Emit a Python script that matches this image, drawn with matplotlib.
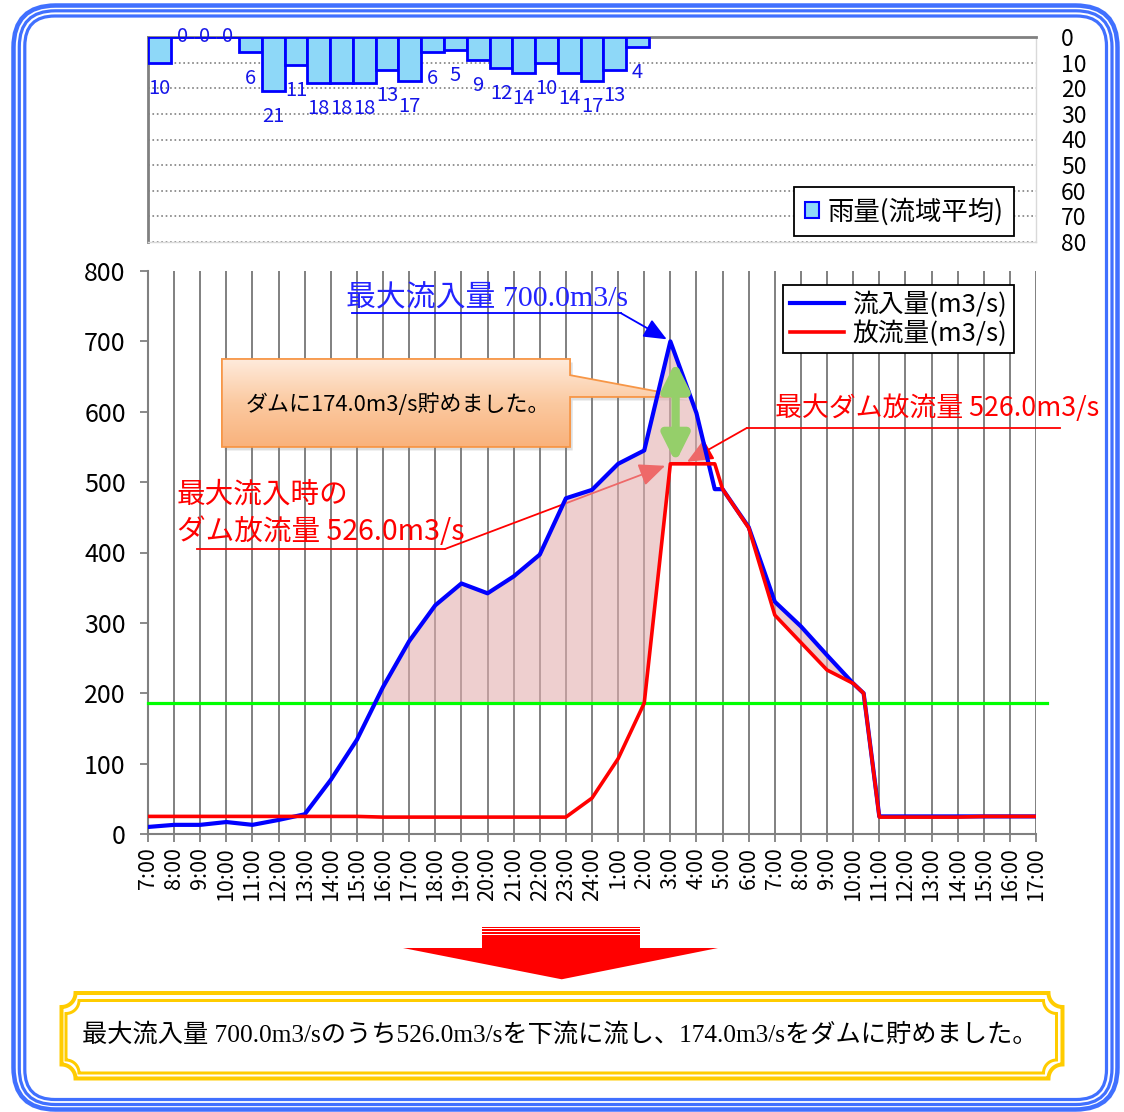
import numpy as np
import matplotlib
matplotlib.use("Agg")
import matplotlib.pyplot as plt
import matplotlib.transforms as mtransforms
from matplotlib.patches import Polygon, Rectangle, FancyBboxPatch, FancyArrowPatch
from matplotlib.colors import LinearSegmentedColormap

plt.rcParams['font.family'] = ['Noto Sans CJK JP', 'DejaVu Sans']
SERIF = ['Liberation Serif', 'Noto Sans CJK JP']

# ---- データ ----
time_labels = ['7:00', '8:00', '9:00', '10:00', '11:00', '12:00', '13:00', '14:00', '15:00',
               '16:00', '17:00', '18:00', '19:00', '20:00', '21:00', '22:00', '23:00', '24:00',
               '1:00', '2:00', '3:00', '4:00', '5:00', '6:00', '7:00', '8:00', '9:00', '10:00',
               '11:00', '12:00', '13:00', '14:00', '15:00', '16:00', '17:00']
# 7:00 からの経過時間
hours = [0, 1, 2, 3, 4, 5, 6, 7, 8, 9, 10, 11, 12, 13, 14, 15, 16, 17, 18, 19, 20, 21, 21.7,
         22, 23, 24, 25, 26, 27, 27.4, 28, 29, 30, 31, 32, 33, 34]
inflow = [10, 13, 13, 17, 13, 20, 28, 77, 134, 209, 274, 325, 356, 342, 366, 397, 477, 489,
          526, 545, 700, 598, 490, 490, 436, 330, 295, 254, 214, 200, 25, 25, 25, 25, 25, 25, 25]
outflow = [25, 25, 25, 25, 25, 25, 25, 25, 25, 24, 24, 24, 24, 24, 24, 24, 24, 51,
           107, 186, 526, 526, 526, 490, 435, 311, 272, 233, 214, 200, 24, 24, 24, 24, 25, 25, 25]
rain_values = [10, 0, 0, 0, 6, 21, 11, 18, 18, 18, 13, 17, 6, 5, 9, 12, 14, 10, 14, 17, 13, 4]
rain_ticks = [0, 10, 20, 30, 40, 50, 60, 70, 80]
flow_ticks = [0, 100, 200, 300, 400, 500, 600, 700, 800]
flood_level = 186

max_in = max(inflow)
i_peak = inflow.index(max_in)
out_at_peak = outflow[i_peak]
max_out = max(outflow)
stored = max_in - out_at_peak

W, H = 1124, 1112
fig = plt.figure(figsize=(W / 100, H / 100), dpi=100)

# ---- 枠・矢印などの装飾 (ピクセル座標) ----
deco = fig.add_axes([0, 0, 1, 1], zorder=-1)
deco.set_xlim(0, W)
deco.set_ylim(H, 0)
deco.axis('off')

for x0, y0, x1, y1, lw, r in [(13.5, 5.5, 1117.5, 1109.5, 4.5, 42),
                              (19.3, 10.8, 1112, 1104.5, 3.2, 36),
                              (24.8, 16, 1106.5, 1099.5, 3.2, 30)]:
    deco.add_patch(FancyBboxPatch((x0, y0), x1 - x0, y1 - y0,
                                  boxstyle=f'round,pad=0,rounding_size={r}',
                                  fill=False, ec='#4070FF', lw=lw * 0.72))

# 下向きの赤矢印
for y, h in [(926.5, 1.2), (929.3, 1.5), (932.4, 1.2), (934.6, 14)]:
    deco.add_patch(Rectangle((482, y), 158, h, fc='#FF0000', ec='none'))
deco.add_patch(Polygon([(403, 948), (718, 948), (561.7, 979.3)], closed=True, fc='#FF0000', ec='none'))


def notched(x0, y0, x1, y1, r, n=16):
    pts = []
    for cx, cy, a0, a1 in [(x0, y0, 90, 0), (x1, y0, 180, 90), (x1, y1, 270, 180), (x0, y1, 360, 270)]:
        t = np.radians(np.linspace(a0, a1, n))
        pts += list(zip(cx + r * np.cos(t), cy + r * np.sin(t)))
    return pts


deco.add_patch(Polygon(notched(61.5, 993, 1062.5, 1078.5, 14), closed=True, fill=False,
                       ec='#FFCC00', lw=4 * 0.72))
deco.add_patch(Polygon(notched(66, 1000.5, 1056.5, 1073, 13), closed=True, fill=False,
                       ec='#FFCC00', lw=3 * 0.72))
deco.text(560, 1035, f'最大流入量 {max_in:.1f}m3/sのうち{out_at_peak:.1f}m3/sを下流に流し、{stored:.1f}m3/sをダムに貯めました。',
          ha='center', va='center', fontsize=18.2, family=SERIF, color='black')

# ---- 雨量グラフ ----
ax_r = fig.add_axes([148 / W, 1 - 242 / H, 888 / W, 205 / H])
ax_r.bar(np.arange(len(rain_values)), rain_values, width=1, align='edge', color='#8ED8F8',
         edgecolor='#0000FF', linewidth=2, zorder=3)
for i, v in enumerate(rain_values):
    ax_r.text(i + 0.5, v + 10 if v else 0, str(v), ha='center', va='center',
              color='#1515E8', fontsize=14.5, zorder=4)
ax_r.set_xlim(0, 39)
ax_r.set_ylim(80, 0)
ax_r.set_xticks([])
ax_r.set_yticks(rain_ticks)
ax_r.yaxis.tick_right()
ax_r.tick_params(axis='y', length=0, pad=18, labelsize=16.5)
ax_r.yaxis.grid(True, ls=':', color='#808080', lw=1.2)
ax_r.set_axisbelow(True)
for s in ['top', 'left']:
    ax_r.spines[s].set_color('#808080')
    ax_r.spines[s].set_linewidth(2)
for s in ['right', 'bottom']:
    ax_r.spines[s].set_color('#D9D9D9')
    ax_r.spines[s].set_linewidth(1)
leg_r = ax_r.legend([Rectangle((0, 0), 1, 1, fc='#8ED8F8', ec='#0000FF', lw=1.5)], ['雨量(流域平均)'],
                    loc='lower right', bbox_to_anchor=(0.975, 0.03), borderaxespad=0, fontsize=19,
                    handlelength=0.55, handleheight=0.55, handletextpad=0.3, borderpad=0.4,
                    fancybox=False, edgecolor='black', framealpha=1)
leg_r.get_frame().set_linewidth(1.3)

# ---- 流量グラフ ----
ax = fig.add_axes([148 / W, 1 - 834 / H, 888 / W, 563 / H])
ax.set_xlim(0, len(time_labels) - 1)
ax.set_ylim(flow_ticks[0], flow_ticks[-1])
ax.set_xticks(range(len(time_labels)))
ax.set_xticklabels(time_labels, rotation=90, fontsize=15.5)
shift = mtransforms.ScaledTranslation(5 / 100, 0, fig.dpi_scale_trans)
for lab in ax.get_xticklabels():
    lab.set_transform(lab.get_transform() + shift)
ax.set_yticks(flow_ticks)
ax.tick_params(axis='y', labelsize=18, pad=10)
ax.tick_params(axis='both', direction='out', length=6, width=1.3, color='#808080')
ax.grid(axis='x', color='#808080', lw=1.4)
ax.set_axisbelow(True)
for s in ['top', 'right']:
    ax.spines[s].set_visible(False)
for s in ['left', 'bottom']:
    ax.spines[s].set_color('#808080')
    ax.spines[s].set_linewidth(1.5)

# 貯留量の塗りつぶし
xs = np.linspace(hours[0], hours[-1], 3000)
yi = np.interp(xs, hours, inflow)
floor = np.maximum(np.interp(xs, hours, outflow), flood_level)
ax.fill_between(xs, floor, yi, where=yi > floor, interpolate=True, color='#E3B0B0',
                alpha=0.6, lw=0, zorder=3)
ax.axhline(flood_level, xmin=0, xmax=1.012, color='#00FF00', lw=2.3, zorder=4, clip_on=False)

l_in, = ax.plot(hours, inflow, color='#0000FF', lw=3, zorder=5)
l_out, = ax.plot(hours, outflow, color='#FF0000', lw=2.6, zorder=6)

leg = ax.legend([l_in, l_out], ['流入量(m3/s)', '放流量(m3/s)'], loc='upper right',
                bbox_to_anchor=(0.975, 0.975), borderaxespad=0, fontsize=18.5, handlelength=2.1,
                handletextpad=0.35, borderpad=0.25, labelspacing=0.1, fancybox=False,
                edgecolor='black', framealpha=1)
leg.get_frame().set_linewidth(1.3)
leg.set_zorder(10)

# 最大流入量の注記
ax.text(7.58, 760, f'最大流入量 {max_in:.1f}m3/s', color='#2323FF', fontsize=21.5, family=SERIF,
        ha='left', va='center', zorder=8)
ax.plot([7.81, 18.11], [740, 740], color='#0000FF', lw=1.3, zorder=2, clip_on=False)
ax.annotate('', xy=(hours[i_peak], max_in), xytext=(18.11, 740), zorder=2,
            arrowprops=dict(arrowstyle='-|>,head_length=0.7,head_width=0.3', color='#0000FF',
                            lw=1.3, shrinkA=0, shrinkB=3, mutation_scale=20))

# 吹き出し
box_pts = [(2.83, 675), (16.16, 675), (16.16, 652), (20.63, 621), (16.16, 621), (16.16, 550), (2.83, 550)]
shadow = Polygon([(x + 0.1, y - 5) for x, y in box_pts], closed=True, fc='#808080', ec='none',
                 alpha=0.25, zorder=1.8)
ax.add_patch(shadow)
box = Polygon(box_pts, closed=True, fc='none', ec='#F79646', lw=1.3, zorder=2.2)
ax.add_patch(box)
grad = LinearSegmentedColormap.from_list('peach', ['#FFEBDC', '#FBC9A0', '#F9B27C'])
im = ax.imshow(np.linspace(0, 1, 256).reshape(-1, 1), cmap=grad, aspect='auto', origin='upper',
               extent=(2.83, 20.63, 550, 675), zorder=2.1)
im.set_clip_path(box)
ax.text(3.75, 609.6, f'ダムに{stored:.1f}m3/s貯めました。', fontsize=15.8, ha='left', va='center',
        zorder=2.3)

# 貯留量の両矢印
ax.add_patch(FancyArrowPatch((20.2, out_at_peak + 2), (20.2, max_in - 29),
                             arrowstyle='<|-|>,head_length=1.0,head_width=0.5', mutation_scale=16,
                             lw=6, color='#95CF6A', zorder=7, shrinkA=0, shrinkB=0))

# 最大ダム放流量の注記
ax.text(24.0, 605, f'最大ダム放流量 {max_out:.1f}m3/s', color='#FF0000', fontsize=19.4,
        ha='left', va='center', zorder=8)
ax.plot([22.93, 34.92], [577, 577], color='#FF0000', lw=1.3, zorder=2, clip_on=False)
ax.annotate('', xy=(hours[i_peak] + 0.5, max_out), xytext=(22.93, 577), zorder=2,
            arrowprops=dict(arrowstyle='-|>,head_length=0.8,head_width=0.35', color='#FF0000',
                            lw=1.3, shrinkA=0, shrinkB=3, mutation_scale=20))

# 最大流入時のダム放流量の注記
ax.text(1.11, 482, '最大流入時の', color='#FF0000', fontsize=20.6, ha='left', va='center', zorder=8)
ax.text(1.11, 429, f'ダム放流量 {out_at_peak:.1f}m3/s', color='#FF0000', fontsize=20.6,
        ha='left', va='center', zorder=8)
ax.plot([1.88, 11.37], [405, 405], color='#FF0000', lw=1.3, zorder=2)
ax.annotate('', xy=(hours[i_peak], out_at_peak), xytext=(11.37, 405), zorder=2,
            arrowprops=dict(arrowstyle='-|>,head_length=0.8,head_width=0.35', color='#FF0000',
                            lw=1.3, shrinkA=0, shrinkB=4, mutation_scale=20))

ax.set_xlim(0, len(time_labels) - 1)
ax.set_ylim(flow_ticks[0], flow_ticks[-1])

fig.savefig('out.png', dpi=100, facecolor='white')
